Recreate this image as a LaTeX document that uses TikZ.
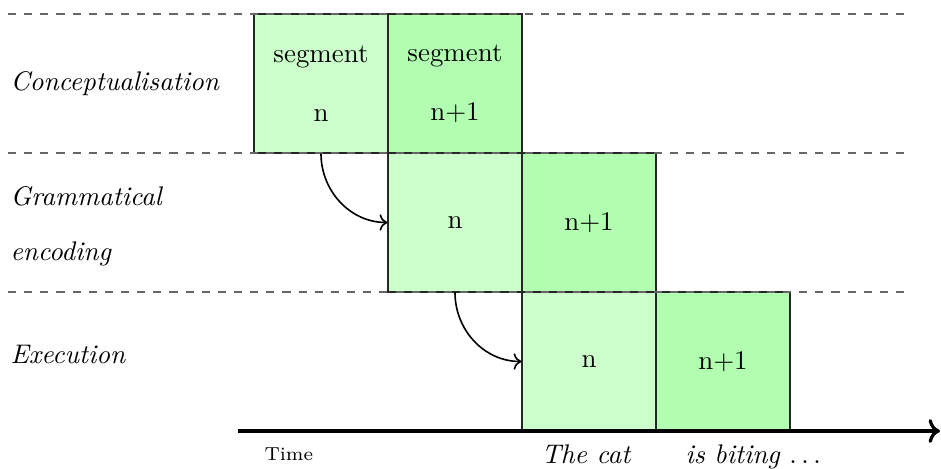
\documentclass[tikz,border=0pt]{standalone}
\usetikzlibrary{arrows.meta}
\begin{document}
\begin{tikzpicture}[x=0.3716pt,y=-0.3716pt,
  seglight/.style={draw=black!85,line width=0.4pt,fill=green!20,minimum width=49.8pt,minimum height=51.65pt,inner sep=0pt,align=center,anchor=center},
  segdark/.style={seglight,fill=green!30},
  rowline/.style={dashed,draw=black!60,line width=0.4pt},
  stagelabel/.style={anchor=base west,inner sep=0pt,font=\itshape},
  flow/.style={->,semithick},
  timeaxis/.style={->,line width=1.2pt}]
\useasboundingbox (0,0) rectangle (941,468);
% boxes
\node[seglight] (c1) at (321,83.5) {segment\\[9.9pt]n};
\node[segdark]  (c2) at (455,83.5) {segment\\[9.9pt]n+1};
\node[seglight] (g1) at (455,222.5) {n};
\node[segdark]  (g2) at (589,222.5) {n+1};
\node[seglight] (e1) at (589,361.5) {n};
\node[segdark]  (e2) at (723,361.5) {n+1};
% dashed row separators
\coordinate (l1a) at (8,14);  \coordinate (l1b) at (910,14);
\coordinate (l2a) at (8,153); \coordinate (l2b) at (910,153);
\coordinate (l3a) at (8,292); \coordinate (l3b) at (910,292);
\draw[rowline] (l1a) -- (l1b);
\draw[rowline] (l2a) -- (l2b);
\draw[rowline] (l3a) -- (l3b);
% stage labels
\node[stagelabel] (lc) at (10,90) {Conceptualisation};
\node[stagelabel] (lg1) at (10,205) {Grammatical};
\node[stagelabel] (lg2) at (10,260) {encoding};
\node[stagelabel] (le) at (10,363) {Execution};
% flow arrows
\draw[flow] (c1.south) to[out=-90,in=180] (g1.west);
\draw[flow] (g1.south) to[out=-90,in=180] (e1.west);
% time axis
\coordinate (ta) at (238,431);
\coordinate (tb) at (940,431);
\draw[timeaxis] (ta) -- (tb);
\node[anchor=base west,inner sep=0pt,font=\scriptsize] (time) at (264,460) {Time};
\node[anchor=base,inner sep=0pt,font=\itshape] (w1) at (586,463) {The cat};
\node[anchor=base west,inner sep=0pt] (w2) at (685,463) {\textit{is biting} $\ldots$};
\end{tikzpicture}
\end{document}
